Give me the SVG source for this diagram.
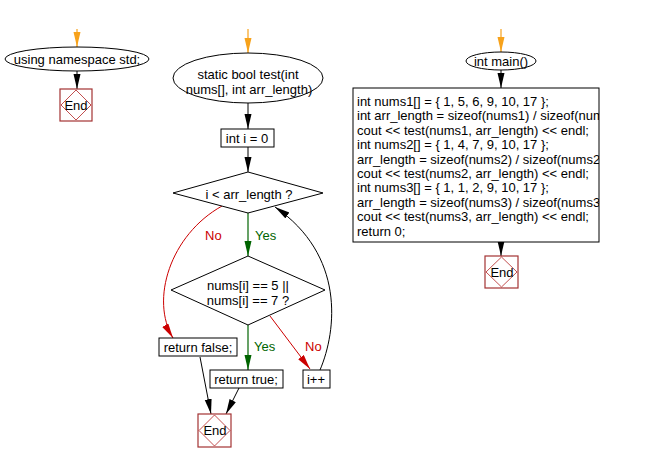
<svg xmlns="http://www.w3.org/2000/svg" width="653" height="462" viewBox="0 0 653 462">
<style>
text{font-family:"Liberation Sans",Arial,sans-serif;font-size:13px;fill:#000}
.c{text-anchor:middle}
.box{fill:#fff;stroke:#000;stroke-width:1}
.endr{fill:#fff;stroke:#a33333;stroke-width:1.2}
.endd{fill:none;stroke:#b22222;stroke-width:0.8}
.k{fill:none;stroke:#000;stroke-width:1}
.o{fill:none;stroke:#f7a21b;stroke-width:1.2}
.g{fill:none;stroke:#006400;stroke-width:1.2}
.r{fill:none;stroke:#cc0000;stroke-width:1}
.gt{fill:#006400}
.rt{fill:#cc0000}
</style>
<defs>
<marker id="ak" markerUnits="userSpaceOnUse" markerWidth="16" markerHeight="8" refX="15" refY="3.5" orient="auto"><path d="M0,0 L15,3.5 L0,7 Z" fill="#000"/></marker>
<marker id="ao" markerUnits="userSpaceOnUse" markerWidth="16" markerHeight="8" refX="15" refY="3.5" orient="auto"><path d="M0,0 L15,3.5 L0,7 Z" fill="#f7a21b"/></marker>
<marker id="ag" markerUnits="userSpaceOnUse" markerWidth="16" markerHeight="8" refX="15" refY="3.5" orient="auto"><path d="M0,0 L15,3.5 L0,7 Z" fill="#006400"/></marker>
<marker id="ar" markerUnits="userSpaceOnUse" markerWidth="16" markerHeight="8" refX="15" refY="3.5" orient="auto"><path d="M0,0 L15,3.5 L0,7 Z" fill="#cc0000"/></marker>
<clipPath id="codeclip"><rect x="353" y="88" width="246" height="154"/></clipPath>
</defs>

<g id="connectors">
<path class="o" d="M77,29 L77,47" marker-end="url(#ao)"/>
<path class="k" d="M77,71 L77,89" marker-end="url(#ak)"/>
<path class="o" d="M248,29 L248,53" marker-end="url(#ao)"/>
<path class="k" d="M248,103 L248,129" marker-end="url(#ak)"/>
<path class="k" d="M248,147 L248,172" marker-end="url(#ak)"/>
<path class="g" d="M248,213 L248,256" marker-end="url(#ag)"/>
<path class="r" d="M222,206 C170,235 150,300 173,338" marker-end="url(#ar)"/>
<path class="g" d="M248,325 L248,370" marker-end="url(#ag)"/>
<path class="r" d="M270,316 L310,369" marker-end="url(#ar)"/>
<path class="k" d="M320,370 C337,330 345,255 275,207" marker-end="url(#ak)"/>
<path class="k" d="M200,357 L211,414" marker-end="url(#ak)"/>
<path class="k" d="M239,388 L226,414" marker-end="url(#ak)"/>
<path class="o" d="M501,29 L501,52" marker-end="url(#ao)"/>
<path class="k" d="M501,70 L501,88" marker-end="url(#ak)"/>
<path class="k" d="M501,242 L501,256" marker-end="url(#ak)"/>
<text class="gt" x="255" y="240">Yes</text>
<text class="rt" x="205" y="240">No</text>
<text class="gt" x="254" y="351">Yes</text>
<text class="rt" x="305" y="351">No</text>
</g>

<g id="ns">
<ellipse cx="77" cy="59" rx="72" ry="12" class="box"/>
<text class="c" x="77" y="64">using namespace std;</text>
</g>
<g id="end1">
<rect x="60" y="89" width="32" height="32" class="endr"/>
<path d="M76,90 L91,105 L76,120 L61,105 Z" class="endd"/>
<text class="c" x="76" y="110">End</text>
</g>

<g id="test">
<ellipse cx="248" cy="78" rx="75" ry="25" class="box"/>
<text class="c" x="248" y="79">static bool test(int</text>
<text class="c" x="249" y="94">nums[], int arr_length)</text>
</g>
<g id="init">
<rect x="221" y="129" width="53" height="18" class="box"/>
<text class="c" x="247" y="143">int i = 0</text>
</g>
<g id="cond1">
<path d="M248,172 L323,193 L248,213 L173,193 Z" class="box"/>
<text class="c" x="249" y="199">i &lt; arr_length ?</text>
</g>
<g id="cond2">
<path d="M248,256 L325,290 L248,325 L171,290 Z" class="box"/>
<text class="c" x="248" y="290">nums[i] == 5 ||</text>
<text class="c" x="248" y="304.5">nums[i] == 7 ?</text>
</g>
<g id="retfalse">
<rect x="159" y="338" width="78" height="18" class="box"/>
<text class="c" x="198" y="352">return false;</text>
</g>
<g id="rettrue">
<rect x="210" y="370" width="73" height="18" class="box"/>
<text class="c" x="246" y="384">return true;</text>
</g>
<g id="inc">
<rect x="303" y="370" width="27" height="18" class="box"/>
<text class="c" x="316" y="384">i++</text>
</g>
<g id="end2">
<rect x="198" y="414" width="33" height="33" class="endr"/>
<path d="M214.5,415 L230,430.5 L214.5,446 L199,430.5 Z" class="endd"/>
<text class="c" x="215" y="435">End</text>
</g>

<g id="main">
<ellipse cx="501" cy="61" rx="35" ry="9" class="box"/>
<text class="c" x="501" y="66">int main()</text>
</g>
<g id="code">
<rect x="353" y="88" width="246" height="154" class="box"/>
<g clip-path="url(#codeclip)">
<text x="357" y="106">int nums1[] = { 1, 5, 6, 9, 10, 17 };</text>
<text x="357" y="120.4">int arr_length = sizeof(nums1) / sizeof(nums1[0]);</text>
<text x="357" y="134.8">cout &lt;&lt; test(nums1, arr_length) &lt;&lt; endl;</text>
<text x="357" y="149.2">int nums2[] = { 1, 4, 7, 9, 10, 17 };</text>
<text x="357" y="163.6">arr_length = sizeof(nums2) / sizeof(nums2[0]);</text>
<text x="357" y="178">cout &lt;&lt; test(nums2, arr_length) &lt;&lt; endl;</text>
<text x="357" y="192.4">int nums3[] = { 1, 1, 2, 9, 10, 17 };</text>
<text x="357" y="206.8">arr_length = sizeof(nums3) / sizeof(nums3[0]);</text>
<text x="357" y="221.2">cout &lt;&lt; test(nums3, arr_length) &lt;&lt; endl;</text>
<text x="357" y="235.6">return 0;</text>
</g>
</g>
<g id="end3">
<rect x="485" y="256" width="33" height="32" class="endr"/>
<path d="M501.5,257 L517,272 L501.5,287 L486,272 Z" class="endd"/>
<text class="c" x="502" y="277">End</text>
</g>
</svg>
